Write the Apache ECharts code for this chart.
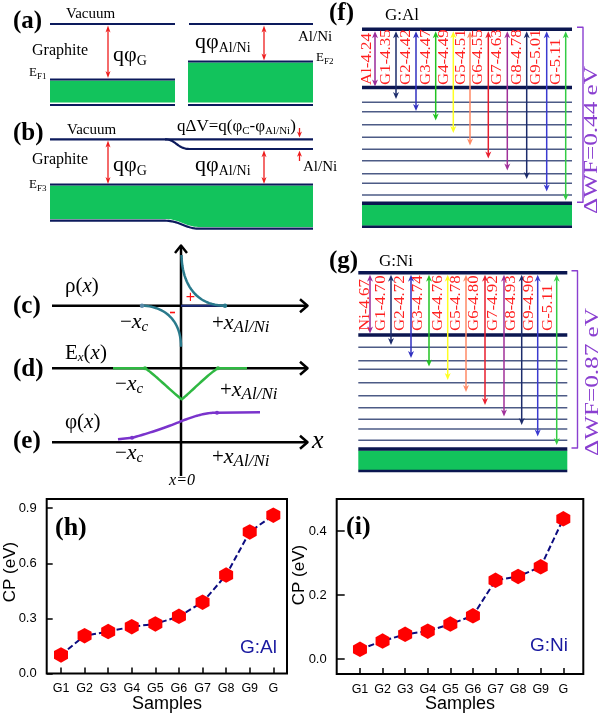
<!DOCTYPE html>
<html><head><meta charset="utf-8">
<script src="https://cdn.jsdelivr.net/npm/echarts@6/dist/echarts.min.js"></script>
<style>html,body{margin:0;padding:0;background:#fff}#c{width:600px;height:717px}</style>
</head><body><div id="c"></div>
<script>
// ---------------- data ----------------
const samples = ['G1','G2','G3','G4','G5','G6','G7','G8','G9','G'];
const cpAl = [0.101,0.206,0.228,0.255,0.270,0.311,0.388,0.536,0.771,0.862];
const cpNi = [0.030,0.056,0.077,0.087,0.109,0.135,0.246,0.258,0.288,0.438];
const ticksAl = [0, 0.3, 0.6, 0.9];
const ticksNi = [0, 0.2, 0.4];
const wfAlLabels = ['Al-4.24','G1-4.35','G2-4.42','G3-4.47','G4-4.49','G5-4.51','G6-4.55','G7-4.63','G8-4.78','G9-5.01','G-5.11'];
const wfNiLabels = ['Ni-4.67','G1-4.70','G2-4.72','G3-4.74','G4-4.76','G5-4.78','G6-4.80','G7-4.92','G8-4.93','G9-4.96','G-5.11'];
const dWFAl = 'ΔWF=0.44 eV';
const dWFNi = 'ΔWF=0.87 eV';

// ---------------- styles ----------------
const SERIF = "'Liberation Serif','Times New Roman',serif";
const SANS = "'Liberation Sans',Arial,sans-serif";
const NAVY = '#0c1a5c', RED = '#ee1c1c', GREEN = '#12c35c';
const THICK = '#0b1650', THIN = '#4d5b86', BR = '#8a3fd0', LBL = '#ff2020';
const arrowCols = ['#9a2a9a','#1c2c6c','#3030c0','#22c322','#ffff22','#ff8a66','#e81e2e','#a0309a','#1c2c6c','#3a3ad0','#33cc44'];

// ---------------- helpers ----------------
const G = [];
const mctx = document.createElement('canvas').getContext('2d');
function fnt(s,o){return (o.it?'italic ':'')+(o.b?'bold ':'')+s+'px '+(o.f||SERIF);}
function tw(t,s,o){mctx.font=fnt(s,o||{});return mctx.measureText(t).width;}
function T(x,y,t,s,o){o=o||{};
  G.push({type:'text',x:x,y:y,rotation:o.rot||0,scaleX:o.sx||1,scaleY:1,z:100,silent:true,
    style:{text:t,fontSize:s,fontFamily:o.f||SERIF,fontStyle:o.it?'italic':'normal',fontWeight:o.b?'bold':'normal',
      fill:o.c||'#000',align:o.al||'left',verticalAlign:o.va||'middle'}});
}
function RT(x,y,parts){let cx=x;
  for(const p of parts){const t=p[0],s=p[1],o=p[2]||{};T(cx+(o.dx||0),y+(o.dy||0),t,s,o);cx+=tw(t,s,o)+(o.dx||0);}
}
function L(x1,y1,x2,y2,c,w){G.push({type:'line',z:50,silent:true,shape:{x1:x1,y1:y1,x2:x2,y2:y2},style:{stroke:c,lineWidth:w}});}
// simple path (M/L/C/Z) -> sampled points
function pts(d){
  const tk=d.replace(/([MLCZ])/g,' $1 ').replace(/,/g,' ').trim().split(/\s+/);
  const out=[];let i=0,cmd='',cx=0,cy=0;
  while(i<tk.length){
    if(/[MLCZ]/.test(tk[i])){cmd=tk[i++];if(cmd==='Z'){continue;}}
    if(cmd==='M'||cmd==='L'){cx=+tk[i++];cy=+tk[i++];out.push([cx,cy]);}
    else if(cmd==='C'){
      const a=[+tk[i++],+tk[i++],+tk[i++],+tk[i++],+tk[i++],+tk[i++]];
      const x0=cx,y0=cy;
      for(let k=1;k<=24;k++){const t=k/24,u=1-t;
        out.push([u*u*u*x0+3*u*u*t*a[0]+3*u*t*t*a[2]+t*t*t*a[4], u*u*u*y0+3*u*u*t*a[1]+3*u*t*t*a[3]+t*t*t*a[5]]);}
      cx=a[4];cy=a[5];
    } else i++;
  }
  return out;
}
function P(d,st,z){
  const p=pts(d);
  if(st.fill&&st.fill!=='none') G.push({type:'polygon',z:z||40,silent:true,shape:{points:p},style:{fill:st.fill}});
  else G.push({type:'polyline',z:z||50,silent:true,shape:{points:p},style:{stroke:st.stroke,lineWidth:st.lineWidth,fill:null,lineJoin:'round'}});
}
function RC(x,y,w,h,c){G.push({type:'rect',z:40,silent:true,shape:{x:x,y:y,width:w,height:h},style:{fill:c}});}
function head(x,y,dir,c,w,h){G.push({type:'polygon',z:60,silent:true,shape:{points:[[x,y],[x-w/2,y-dir*h],[x,y-dir*h*0.7],[x+w/2,y-dir*h]]},style:{fill:c}});}
function arrowV(x,y1,y2,c,lw,hw,hh,top,bot){
  L(x,y1+(top?hh*0.6:0),x,y2-(bot?hh*0.6:0),c,lw);
  if(top) head(x,y1,-1,c,hw,hh);
  if(bot) head(x,y2,1,c,hw,hh);
}
function dot(x,y,r,c){G.push({type:'circle',z:56,silent:true,shape:{cx:x,cy:y,r:r},style:{fill:c}});}

// ---------------- panel (a) ----------------
T(13,22,'(a)',25,{b:1});
T(66,14,'Vacuum',15);
L(50,24,175,24,NAVY,2.2); L(189,24,313,24,NAVY,2.2);
T(32,51,'Graphite',16);
arrowV(108,25.5,78,RED,1.3,5,7,1,1);
RT(113,55,[['qφ',22],['G',14,{dy:6}]]);
RT(29,72.5,[['E',13],['F1',9,{dy:4.5}]]);
RC(50,80.5,125,22,GREEN); L(50,79.5,175,79.5,NAVY,2); L(50,105,175,105,NAVY,2);
RT(195,42,[['qφ',22],['Al/Ni',14,{dy:6}]]);
arrowV(264,25.5,60.5,RED,1.3,5,7,1,1);
RC(188,62.5,125,40,GREEN); L(188,61.5,313,61.5,NAVY,2); L(188,105,313,105,NAVY,2);
T(298,37,'Al/Ni',15);
RT(316,57.5,[['E',13],['F2',9,{dy:4.5}]]);

// ---------------- panel (b) ----------------
T(13,134,'(b)',25,{b:1});
T(67,130.5,'Vacuum',15);
L(50,139.3,313,139.3,NAVY,2.2);
P('M165,139.3 C176,139.3 177,149 190,149 L313,149',{fill:'none',stroke:NAVY,lineWidth:2.2});
RT(177,126.5,[['qΔV=q(φ',17],['C',11,{dy:5}],['-φ',17],['Al/Ni',11,{dy:5}],[')',17]]);
arrowV(299.5,128,137.5,RED,1.3,5,6,0,1);
arrowV(299.5,150.8,161,RED,1.3,5,6,1,0);
T(303,167,'Al/Ni',15);
T(32,160,'Graphite',16);
RT(113,165,[['qφ',22],['G',14,{dy:6}]]);
RT(195,165,[['qφ',22],['Al/Ni',14,{dy:6}]]);
arrowV(108,140.5,184,RED,1.3,5,7,1,1);
arrowV(264,150.3,184,RED,1.3,5,7,1,1);
RT(29,184.4,[['E',13],['F3',9,{dy:4.5}]]);
P('M50,185.5 L313,185.5 L313,227 L200,227 C185,227 180,219 165,219 L50,219 Z',{fill:GREEN},40);
L(50,184.5,313,184.5,NAVY,2);
P('M50,220.7 L165,220.7 C180,220.7 185,228.7 200,228.7 L313,228.7',{fill:'none',stroke:NAVY,lineWidth:2.2});

// ---------------- panels (c)-(e) ----------------
T(13,307,'(c)',25,{b:1}); T(13,370,'(d)',25,{b:1}); T(13,442,'(e)',25,{b:1});
L(181,476,181,247,'#000',2.5);
P('M175,253 L181,245.5 L187,253',{fill:'none',stroke:'#000',lineWidth:2.5});
[305.7,368.3,442.3].forEach(y=>{
  L(52,y,307,y,'#000',2.5);
  P(`M300,${y-6.5} L307.5,${y} L300,${y+6.5}`,{fill:'none',stroke:'#000',lineWidth:2.5});
});
P('M142,305.7 C162,306 181,318 181,346.7',{fill:'none',stroke:'#2a7a8c',lineWidth:2.5},55);
P('M181.5,255 C182,285 197,305.7 225,305.7',{fill:'none',stroke:'#2a7a8c',lineWidth:2.5},55);
L(181,305.7,225,305.7,'#1c2c7c',2);
dot(142,305.7,2.2,'#5a8aa8'); dot(225,305.7,2.2,'#2a7a8c');
T(190.5,298,'+',16,{f:SANS,c:'#ff1010',al:'center'});
L(170,312.5,175,312.5,'#ff1010',1.6);
P('M113,368.3 L145,368.3 C152,372 172,392 181.7,399.3 C190,393 208,374 218,368.3 L247,368.3',{fill:'none',stroke:'#2fb842',lineWidth:2.5},55);
dot(145,368.3,2,'#2fb842'); dot(218,368.3,2,'#2fb842');
P('M118,439.3 L132,437.8 C150,433 170,426 181.7,421 C195,416 205,412.7 217,412.7 L260,412.3',{fill:'none',stroke:'#7a33cc',lineWidth:2.5},55);
dot(132,437.8,2,'#7a33cc'); dot(217,412.7,2,'#7a33cc');
RT(65,286,[['ρ(',21],['x',21,{it:1}],[')',21]]);
RT(65,353,[['E',21],['x',13,{it:1,dy:5}],['(',21],['x',21,{it:1}],[')',21]]);
RT(65,422,[['φ(',21],['x',21,{it:1}],[')',21]]);
[[120,322],[115,384],[115,453]].forEach(p=>RT(p[0],p[1],[['−',21],['x',22,{it:1}],['c',15,{it:1,dy:5}]]));
[[212,323],[220,390],[212,457]].forEach(p=>RT(p[0],p[1],[['+',21],['x',22,{it:1}],['Al/Ni',17,{it:1,dy:5}]]));
T(182,481,'x=0',16,{it:1,al:'center'});
T(312,441,'x',26,{it:1});

// ---------------- panels (f),(g) ----------------
const layF = {tag:'(f)',tagX:329,tagY:14,title:'G:Al',titleX:385,titleY:16,x0:362,x1:572,top:29.3,second:87.5,
  thin:[102.3,111.7,124.7,137.3,149.3,160.7,173.7,183.3,195],bottom:203.3,base:226.7,
  arrowX:[375,396,416,435.7,453.3,470,488.3,507.3,526.7,546.7,565.7],
  arrowEnd:[86.5,99,111,120.5,133,145.5,158.5,170.5,179,191.5,200.5],
  labelDx:[-8,-10,-10,-10,-9,-9,-10,-10,-10,-11,-10],labelY:85,bx:583,wfX:592,wfY:140};
const layG = {tag:'(g)',tagX:329,tagY:262,title:'G:Ni',titleX:379,titleY:262,x0:358.3,x1:567.3,top:272.7,second:335,
  thin:[347.3,360.7,369.3,382.7,395.7,407.7,419.3,429,440.3],bottom:449,base:471,
  arrowX:[370,391,411,429,447.7,466,485,504,521.7,537.7,556.7],
  arrowEnd:[333.5,345,358,366.5,380,392,405,416.5,425,436.5,445],
  labelDx:[-5,-10,-11,-10.5,-9.5,-10,-11,-11,-10.5,-8.5,-8.5],labelY:331,bx:577.5,wfX:593,wfY:382};
function levelPanel(Lp,labels,wf){
  T(Lp.tagX,Lp.tagY,Lp.tag,25,{b:1});
  T(Lp.titleX,Lp.titleY,Lp.title,17);
  L(Lp.x0,Lp.top,Lp.x1,Lp.top,THICK,3.5);
  L(Lp.x0,Lp.second,Lp.x1,Lp.second,THICK,3.5);
  Lp.thin.forEach(y=>L(Lp.x0,y,Lp.x1,y,THIN,1.6));
  L(Lp.x0,Lp.bottom,Lp.x1,Lp.bottom,THICK,3.5);
  RC(Lp.x0,Lp.bottom+1.5,Lp.x1-Lp.x0,Lp.base-Lp.bottom-2.5,GREEN);
  L(Lp.x0,Lp.base,Lp.x1,Lp.base,THICK,2.5);
  labels.forEach((t,i)=>{
    const ax=Lp.arrowX[i];
    arrowV(ax,Lp.top+2,Lp.arrowEnd[i],arrowCols[i],1.5,6,7,1,1);
    T(ax+Lp.labelDx[i],Lp.labelY,t,15,{rot:Math.PI/2,c:LBL,sx:1.12});
  });
  const be=Lp.bottom-1;
  P(`M${Lp.bx-6},${Lp.top-2} L${Lp.bx},${Lp.top-2} L${Lp.bx},${be} L${Lp.bx-6},${be}`,{fill:'none',stroke:BR,lineWidth:1.4});
  T(Lp.wfX,Lp.wfY,wf,18,{rot:Math.PI/2,al:'center',c:BR,sx:1.4});
}
levelPanel(layF,wfAlLabels,dWFAl);
levelPanel(layG,wfNiLabels,dWFNi);

// ---------------- panels (h),(i) text ----------------
T(55,528,'(h)',26,{b:1});
T(346,527,'(i)',26,{b:1});
T(240,648,'G:Al',19,{f:SANS,c:'#1a1aa0'});
T(530,646,'G:Ni',19,{f:SANS,c:'#1a1aa0'});
T(167,704,'Samples',18,{f:SANS,al:'center'});
T(460,704,'Samples',18,{f:SANS,al:'center'});
T(10,572,'CP (eV)',17,{f:SANS,al:'center',rot:Math.PI/2});
T(299,575,'CP (eV)',17,{f:SANS,al:'center',rot:Math.PI/2});

// ---------------- charts ----------------
const idx = samples.map((_,i)=>i);
const hex = 'path://M0,-1 L0.866,-0.5 L0.866,0.5 L0,1 L-0.866,0.5 L-0.866,-0.5 Z';
function xAx(g,min,max){return {gridIndex:g,type:'value',min:min,max:max,
  axisLine:{show:false,onZero:false},splitLine:{show:false},
  axisTick:{show:true,inside:true,length:6,lineStyle:{color:'#000',width:1.5},customValues:idx},
  axisLabel:{show:true,customValues:idx,formatter:v=>samples[Math.round(v)],color:'#000',fontSize:12.5,fontFamily:SANS,margin:9}};}
function yAx(g,min,max,ticks,len){return {gridIndex:g,type:'value',min:min,max:max,
  axisLine:{show:false,onZero:false},splitLine:{show:false},
  axisTick:{show:true,inside:true,length:len,lineStyle:{color:'#000',width:1.5},customValues:ticks},
  axisLabel:{show:true,customValues:ticks,formatter:v=>v.toFixed(1),color:'#000',fontSize:13,fontFamily:SANS,margin:10}};}
function ser(g,vals){return {type:'line',xAxisIndex:g,yAxisIndex:g,data:vals.map((v,i)=>[i,v]),
  symbol:hex,symbolSize:[14,15.5],itemStyle:{color:'#ff0000'},
  lineStyle:{color:'#0c0c80',width:2,type:[6,3]},z:5};}
const option = {
  animation:false,
  backgroundColor:'#fff',
  grid:[
    {left:46.7,top:499,width:240.3,height:174.5,show:true,borderColor:'#000',borderWidth:2},
    {left:336.7,top:499,width:246.6,height:175,show:true,borderColor:'#000',borderWidth:2}
  ],
  xAxis:[xAx(0,-0.606,9.58),xAx(1,-1.03,9.885)],
  yAxis:[yAx(0,0,0.95,ticksAl,6),yAx(1,-0.047,0.5,ticksNi,8)],
  series:[ser(0,cpAl),ser(1,cpNi)],
  graphic:G
};
const chart = echarts.init(document.getElementById('c'),null,{renderer:'canvas',width:600,height:717});
chart.setOption(option);
</script></body></html>
